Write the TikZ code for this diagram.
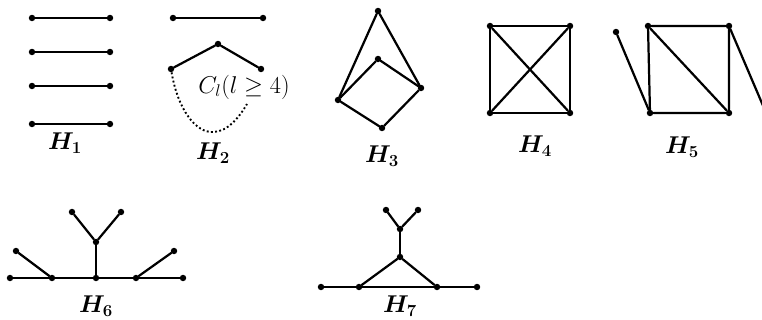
\documentclass[tikz,border=0pt]{standalone}
\usepackage{amsmath}
\usepackage{tikz}
\usetikzlibrary{calc}

\begin{document}
\begin{tikzpicture}[x=0.03cm, y=-0.03cm,
      vtx/.style={circle, fill=black, inner sep=0pt, minimum size=5.5pt},
      ln/.style={line width=1.9pt, line cap=round},
      dotln/.style={line width=1.6pt, dotted},
      lab/.style={font=\fontsize{21}{24}\selectfont\boldmath, inner sep=0pt}]
    \useasboundingbox (0,0) rectangle (762,320);

    % H1
    \foreach \y [count=\i] in {18,52,86,124}
    {
      \node[vtx] (a\i) at (32,\y) {};
      \node[vtx] (b\i) at (110,\y) {};
      \draw[ln] (a\i) -- (b\i);
    }
    \node[lab] (h1) at (65,143) {$H_1$};

    % H2
    \node[vtx] (c1) at (173,18) {};
    \node[vtx] (c2) at (263,18) {};
    \node[vtx] (c3) at (171,69) {};
    \node[vtx] (c4) at (218,44) {};
    \node[vtx] (c5) at (261,69) {};
    \coordinate (cend) at (247,104);
    \draw[ln] (c1) -- (c2);
    \draw[ln] (c3) -- (c4) -- (c5);
    \draw[dotln] (c3) .. controls (178,110) and (196,133) .. (213,132)
      .. controls (228,132) and (240,116) .. (cend);
    \node[font=\fontsize{20}{23}\selectfont, inner sep=0pt] (cl) at (244,87) {$C_l(l \geq 4)$};
    \node[lab] (h2) at (213,153) {$H_2$};

    % H3
    \node[vtx] (d1) at (378,11) {};
    \node[vtx] (d2) at (378,59) {};
    \node[vtx] (d3) at (421,88) {};
    \node[vtx] (d4) at (338,100) {};
    \node[vtx] (d5) at (382,128) {};
    \draw[ln] (d4) -- (d1) -- (d3);
    \draw[ln] (d4) -- (d2) -- (d3) -- (d5) -- (d4);
    \node[lab] (h3) at (382,156) {$H_3$};

    % H4
    \node[vtx] (e1) at (490,26) {};
    \node[vtx] (e2) at (570,26) {};
    \node[vtx] (e3) at (570,113) {};
    \node[vtx] (e4) at (490,113) {};
    \draw[ln] (e1) -- (e2) -- (e3) -- (e4) -- (e1);
    \draw[ln] (e1) -- (e3);
    \draw[ln] (e2) -- (e4);
    \node[lab] (h4) at (535,146) {$H_4$};

    % H5
    \node[vtx] (f0) at (616,32) {};
    \node[vtx] (f1) at (648,26) {};
    \node[vtx] (f2) at (729,26) {};
    \node[vtx] (f3) at (729,113) {};
    \node[vtx] (f4) at (650,113) {};
    \coordinate (fend) at (764,108);
    \draw[ln] (f1) -- (f2) -- (f3) -- (f4) -- (f1);
    \draw[ln] (f1) -- (f3);
    \draw[ln] (f0) -- (f4);
    \draw[ln] (f2) -- (fend);
    \node[lab] (h5) at (682,147) {$H_5$};

    % H6
    \foreach \x [count=\i] in {10,52,96,136,183}
      \node[vtx] (g\i) at (\x,278) {};
    \node[vtx] (g6) at (16,251) {};
    \node[vtx] (g7) at (174,251) {};
    \node[vtx] (g8) at (96,242) {};
    \node[vtx] (g9) at (72,212) {};
    \node[vtx] (g10) at (121,212) {};
    \draw[ln] (g1) -- (g2) -- (g3) -- (g4) -- (g5);
    \draw[ln] (g6) -- (g2);
    \draw[ln] (g7) -- (g4);
    \draw[ln] (g3) -- (g8);
    \draw[ln] (g9) -- (g8) -- (g10);
    \node[lab] (h6) at (96,306) {$H_6$};

    % H7
    \node[vtx] (k1) at (321,287) {};
    \node[vtx] (k2) at (359,287) {};
    \node[vtx] (k3) at (437,287) {};
    \node[vtx] (k4) at (477,287) {};
    \node[vtx] (k5) at (400,257) {};
    \node[vtx] (k6) at (400,229) {};
    \node[vtx] (k7) at (386,210) {};
    \node[vtx] (k8) at (418,210) {};
    \draw[ln] (k1) -- (k2) -- (k3) -- (k4);
    \draw[ln] (k2) -- (k5) -- (k3);
    \draw[ln] (k5) -- (k6);
    \draw[ln] (k7) -- (k6) -- (k8);
    \node[lab] (h7) at (400,306) {$H_7$};
\end{tikzpicture}
\end{document}
